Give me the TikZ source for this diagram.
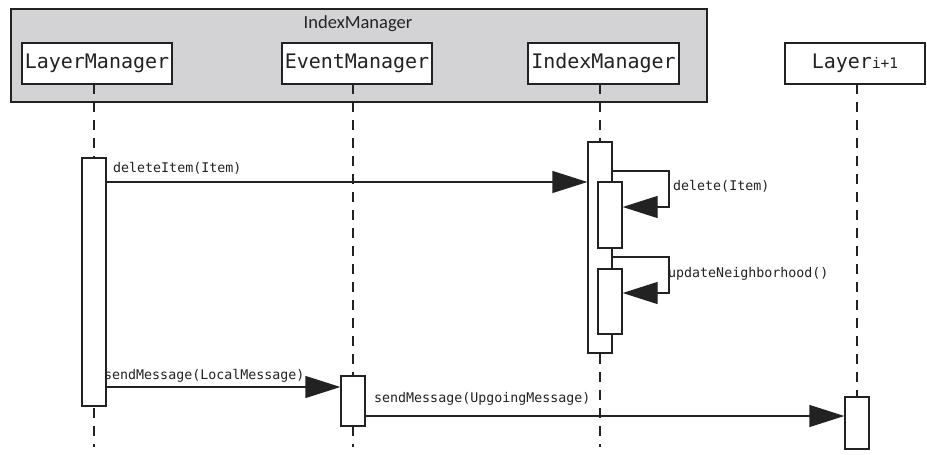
\documentclass[tikz,border=0pt]{standalone}
\usepackage{fontspec}
\setmainfont{Carlito}
\newfontfamily\monofont{DejaVu Sans Mono}
\usetikzlibrary{arrows.meta}
\definecolor{framegray}{HTML}{D3D3D5}
\definecolor{inkline}{HTML}{222222}
\tikzset{
  x=1pt, y=-1pt,
  frame/.style={draw=inkline, line width=1.5pt, fill=framegray},
  header/.style={draw=inkline, line width=1.2pt, fill=white, minimum height=41pt,
    inner sep=0pt, font=\monofont\fontsize{20}{21}\selectfont, text=inkline},
  lifeline/.style={draw=inkline, line width=1.3pt, dash pattern=on 10pt off 8pt},
  act/.style={draw=inkline, line width=1.3pt, fill=white, minimum width=24pt, inner sep=0pt},
  msg/.style={draw=inkline, line width=1.3pt, -{Triangle[length=35pt,width=22pt]}},
  lbl/.style={font=\monofont\fontsize{13.3}{14}\selectfont, inner sep=0pt, anchor=base west, text=inkline},
}
\begin{document}
\begin{tikzpicture}
\useasboundingbox (0,0) rectangle (927,455);
% enclosing group
\node[frame, minimum width=696pt, minimum height=93pt, anchor=north west, inner sep=0pt] (grp) at (10,8) {};
\node[font=\fontsize{18.5}{19}\selectfont, text=inkline, inner sep=0pt] (grptitle) at (358,24) {IndexManager};
% participants
\node[header, minimum width=150pt] (lm) at (97,63.5) {LayerManager};
\node[header, minimum width=150pt] (em) at (357,63.5) {EventManager};
\node[header, minimum width=151pt] (im) at (603.5,63.5) {IndexManager};
\node[header, minimum width=140pt] (ly) at (855,63.5) {Layer{\fontsize{14.5}{15}\selectfont i+1}};
% lifelines
\coordinate (lmend) at (94,447);
\coordinate (emend) at (353,447);
\coordinate (imend) at (600,447);
\coordinate (lyend) at (857,397);
\draw[lifeline] (94,84) -- (lmend);
\draw[lifeline] (353,84) -- (emend);
\draw[lifeline] (600,84) -- (imend);
\draw[lifeline] (857,84) -- (lyend);
% activations
\node[act, minimum height=248pt] (lmact) at (94,282) {};
\node[act, minimum height=211pt] (imact) at (600,247.5) {};
\node[act, minimum height=66pt] (imsub1) at (610,215) {};
\node[act, minimum height=65pt] (imsub2) at (610,301.5) {};
\node[act, minimum height=50pt] (emact) at (353,401) {};
\node[act, minimum height=52pt] (lyact) at (857,423) {};
% messages
\draw[msg] (lmact.east |- 0,182) -- (imact.west |- 0,182);
\node[lbl] (m1) at (113,172) {deleteItem(Item)};
\draw[msg] (imact.east |- 0,171) -- (669,171) -- (669,207) -- (imsub1.east |- 0,207);
\node[lbl] (m2) at (673,190) {delete(Item)};
\draw[msg] (imact.east |- 0,257) -- (669,257) -- (669,293) -- (imsub2.east |- 0,293);
\node[lbl] (m3) at (668,277) {updateNeighborhood()};
\draw[msg] (lmact.east |- 0,387) -- (emact.west |- 0,387);
\node[lbl] (m4) at (104,379) {sendMessage(LocalMessage)};
\draw[msg] (emact.east |- 0,416) -- (lyact.west |- 0,416);
\node[lbl] (m5) at (374,402) {sendMessage(UpgoingMessage)};
\end{tikzpicture}
\end{document}
